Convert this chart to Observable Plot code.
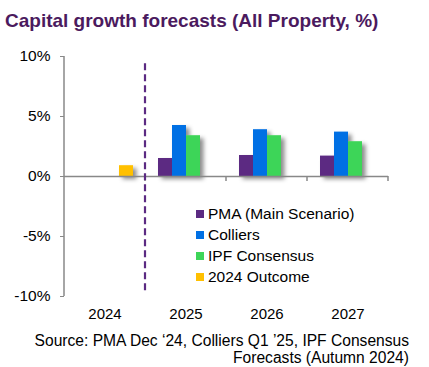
<!DOCTYPE html>
<html><head><meta charset="utf-8">
<script src="https://cdn.jsdelivr.net/npm/d3@7"></script>
<script src="https://cdn.jsdelivr.net/npm/@observablehq/plot@0.6"></script>
<style>
body{margin:0;background:#fff;font-family:"Liberation Sans",Arial,sans-serif;}
#wrap{position:relative;width:429px;height:367px;overflow:hidden;background:#fff;}
#title{position:absolute;left:5px;top:10px;font-size:19px;font-weight:bold;color:#4b1a5e;white-space:nowrap;line-height:normal;}
#chart{position:absolute;left:0;top:0;}
#legend{position:absolute;left:196px;top:203px;font-size:15.5px;color:#000;}
.row{display:flex;align-items:center;height:21px;white-space:nowrap;}
.sw{width:8px;height:8px;margin-right:4px;flex:none;}
#caption{position:absolute;right:20px;top:332px;font-size:15.6px;line-height:17px;text-align:right;color:#000;white-space:nowrap;}
</style>
</head><body>
<div id="wrap">
  <div id="chart"></div>
  <div id="title"></div>
  <div id="legend"></div>
  <div id="caption"></div>
</div>
<script>
const titleText = "Capital growth forecasts (All Property, %)";
const captionLines = ["Source: PMA Dec \u201824, Colliers Q1 \u201925, IPF Consensus", "Forecasts (Autumn 2024)"];
const years = ["2024", "2025", "2026", "2027"];
const series = ["PMA (Main Scenario)", "Colliers", "IPF Consensus", "2024 Outcome"];
const colors = ["#5b2a82", "#0070e4", "#3dd558", "#ffc000"];
const pma = [null, 1.5, 1.75, 1.7];
const colliers = [null, 4.25, 3.9, 3.7];
const ipf = [null, 3.4, 3.4, 2.9];
const outcome = [0.9, null, null, null];
const yTicks = [-10, -5, 0, 5, 10];
const yDomain = [-10, 10];
const forecastStart = "2025";
const dividerRange = [9.4, -9.8];

const allValues = [pma, colliers, ipf, outcome];
const rows = [];
series.forEach((s, i) => {
  years.forEach((yr, j) => {
    const v = allValues[i][j];
    if (v != null) rows.push({year: yr, series: s, value: v});
  });
});

const plot = Plot.plot({
  width: 429, height: 330,
  marginTop: 56, marginBottom: 34, marginLeft: 62, marginRight: 40,
  style: {fontFamily: '"Liberation Sans", Arial, sans-serif', fontSize: "15px", color: "#000", background: "transparent", overflow: "visible"},
  fx: {domain: years, paddingInner: 0, paddingOuter: 0, label: null},
  x: {domain: series, paddingInner: 0, paddingOuter: 0.725, axis: null},
  y: {domain: yDomain},
  color: {domain: series, range: colors},
  marks: [
    Plot.axisY({ticks: yTicks, tickFormat: d => d + "%", tickSize: 4, tickPadding: 10, stroke: "#888", fontSize: 15.5, label: null}),
    Plot.axisFx({anchor: "bottom", tickSize: 0, tickPadding: 12, label: null, fontSize: 15}),
    Plot.barY(rows, {fx: "year", x: "series", y: "value", fill: "series"}),
    Plot.ruleY([0], {stroke: "#888", strokeWidth: 1.5})
  ]
});
document.getElementById("chart").appendChild(plot);

// shadows and decorations using the plot's own scales
const svg = d3.select(plot);
const defs = svg.insert("defs", ":first-child");
const f = defs.append("filter").attr("id", "shadow").attr("x", "-30%").attr("y", "-30%").attr("width", "180%").attr("height", "180%");
f.append("feDropShadow").attr("dx", 3.5).attr("dy", 3).attr("stdDeviation", 2.2).attr("flood-color", "#000").attr("flood-opacity", 0.45);
svg.selectAll('g[aria-label="bar"]').attr("filter", "url(#shadow)");

const fx = plot.scale("fx"), y = plot.scale("y");
const edges = years.map(yr => fx.apply(yr));
edges.push(fx.apply(years[years.length - 1]) + fx.bandwidth);
const g = svg.append("g");
g.append("line").attr("x1", edges[0]).attr("x2", edges[0]).attr("y1", y.apply(yDomain[1])).attr("y2", y.apply(yDomain[0])).attr("stroke", "#888").attr("stroke-width", 1.5);
edges.slice(1).forEach(e => {
  g.append("line").attr("x1", e).attr("x2", e).attr("y1", y.apply(0)).attr("y2", y.apply(0) + 5).attr("stroke", "#888").attr("stroke-width", 1.5);
});
const xd = fx.apply(forecastStart);
g.append("line").attr("x1", xd).attr("x2", xd).attr("y1", y.apply(dividerRange[0])).attr("y2", y.apply(dividerRange[1]))
  .attr("stroke", "#5b2a82").attr("stroke-width", 2.2).attr("stroke-dasharray", "7,4");

document.getElementById("title").textContent = titleText;
document.getElementById("caption").innerHTML = captionLines.map(l => l.replace(/&/g, "&amp;").replace(/</g, "&lt;")).join("<br>");
const leg = document.getElementById("legend");
series.forEach((s, i) => {
  const r = document.createElement("div"); r.className = "row";
  const sw = document.createElement("div"); sw.className = "sw"; sw.style.background = colors[i];
  const t = document.createElement("span"); t.textContent = s;
  r.appendChild(sw); r.appendChild(t); leg.appendChild(r);
});
</script>
</body></html>
